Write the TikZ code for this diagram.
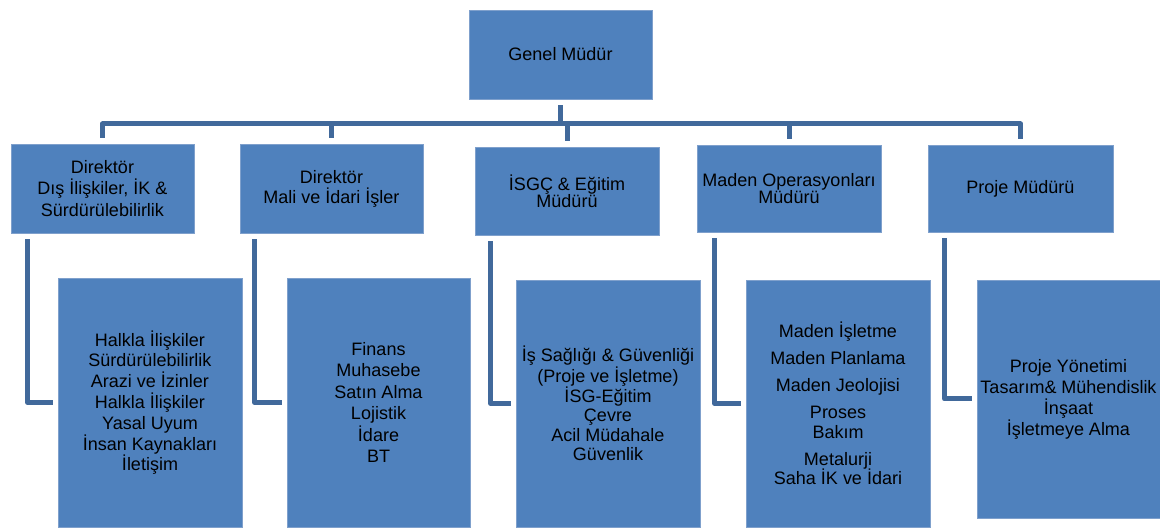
\documentclass[tikz,border=0pt]{standalone}
\usepackage{fontspec}
\setmainfont{Liberation Sans}
\definecolor{boxblue}{HTML}{4F81BD}
\definecolor{boxedge}{HTML}{7FA0CC}
\definecolor{linkblue}{HTML}{41699B}
\tikzset{
  orgbox/.style={fill=boxblue, draw=boxedge, line width=0.8pt, inner sep=0pt, align=center,
    font=\fontsize{18}{21}\selectfont},
  conn/.style={draw=linkblue, line width=5pt, line join=round}
}
\begin{document}
\begin{tikzpicture}[x=1pt,y=-1pt]
\useasboundingbox (0,0) rectangle (1160,529);
% top
\node[orgbox, minimum width=183pt, minimum height=89pt] (gm) at (560.5,54.5) {Genel Müdür};
% level 2
\node[orgbox, minimum width=183pt, minimum height=89pt, font=\fontsize{18}{21.5}\selectfont] (b1) at (102.5,188.5) {Direktör\\Dış İlişkiler, İK \&\\Sürdürülebilirlik};
\node[orgbox, minimum width=183pt, minimum height=89pt, font=\fontsize{18}{20}\selectfont] (b2) at (331.5,188.5) {Direktör\\Mali ve İdari İşler};
\node[orgbox, minimum width=184pt, minimum height=88pt, font=\fontsize{18}{17}\selectfont] (b3) at (567,191) {İSGÇ \& Eğitim\\Müdürü};
\node[orgbox, minimum width=184pt, minimum height=87pt, font=\fontsize{18}{17}\selectfont] (b4) at (789,188.5) {Maden Operasyonları\\Müdürü};
\node[orgbox, minimum width=185pt, minimum height=87pt] (b5) at (1020.5,188.5) {Proje Müdürü};
% level 3
\node[orgbox, minimum width=184pt, minimum height=249pt, font=\fontsize{18}{20.8}\selectfont] (bA) at (150,402.5) {Halkla İlişkiler\\Sürdürülebilirlik\\Arazi ve İzinler\\Halkla İlişkiler\\Yasal Uyum\\İnsan Kaynakları\\İletişim};
\node[orgbox, minimum width=183pt, minimum height=249pt, font=\fontsize{18}{21.4}\selectfont] (bB) at (378.5,402.5) {Finans\\Muhasebe\\Satın Alma\\Lojistik\\İdare\\BT};
\node[orgbox, minimum width=184pt, minimum height=247pt, font=\fontsize{18}{19.4}\selectfont] (bC) at (608,403.5) {İş Sağlığı \& Güvenliği\\(Proje ve İşletme)\\İSG-Eğitim\\Çevre\\Acil Müdahale\\Güvenlik};
\node[orgbox, minimum width=184pt, minimum height=247pt, font=\fontsize{18}{19.5}\selectfont] (bD) at (838,403.5) {Maden İşletme\\[7.5pt]Maden Planlama\\[7.5pt]Maden Jeolojisi\\[7.5pt]Proses\\Bakım\\[7.5pt]Metalurji\\Saha İK ve İdari};
\node[orgbox, minimum width=183pt, minimum height=238pt, font=\fontsize{18}{21}\selectfont] (bE) at (1068.5,399) {Proje Yönetimi\\Tasarım\& Mühendislik\\İnşaat\\İşletmeye Alma};
% bar
\coordinate (bar) at (560,124);
\draw[conn, shorten <=6pt] (gm.south) -- (gm.south |- bar);
\draw[conn, shorten <=6pt, shorten >=6pt] (b1.north) -- (b1.north |- bar) -- (b5.north |- bar) -- (b5.north);
\draw[conn, shorten >=6pt] (b2.north |- bar) -- (b2.north);
\draw[conn, shorten >=6pt] (b3.north |- bar) -- (b3.north);
\draw[conn, shorten >=6pt] (b4.north |- bar) -- (b4.north);
% elbows
\draw[conn, shorten <=6pt, shorten >=5pt] ([xshift=17pt]b1.south west) |- (bA.west);
\draw[conn, shorten <=6pt, shorten >=5pt] ([xshift=15pt]b2.south west) |- (bB.west);
\draw[conn, shorten <=6pt, shorten >=5pt] ([xshift=16pt]b3.south west) |- (bC.west);
\draw[conn, shorten <=6pt, shorten >=5pt] ([xshift=18pt]b4.south west) |- (bD.west);
\draw[conn, shorten <=6pt, shorten >=5pt] ([xshift=17pt]b5.south west) |- (bE.west);
\end{tikzpicture}
\end{document}
